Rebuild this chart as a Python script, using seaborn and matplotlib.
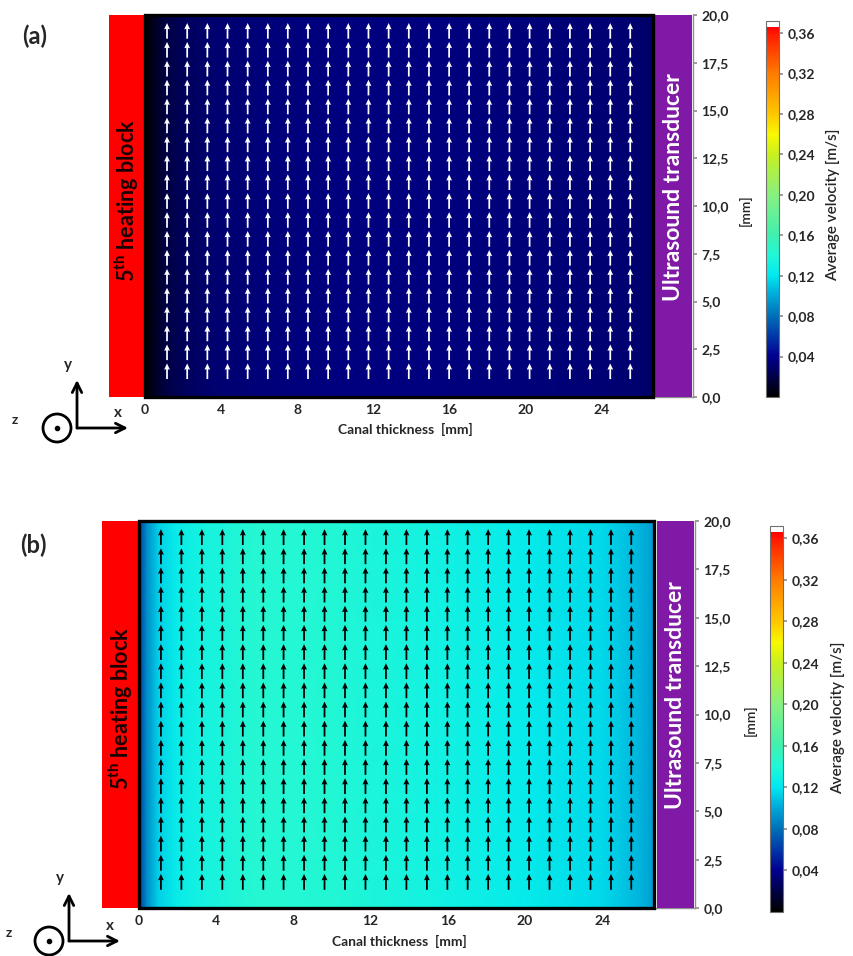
import numpy as np
import matplotlib
matplotlib.use('Agg')
import matplotlib.pyplot as plt
import matplotlib.patches as mpatches
from matplotlib.colors import LinearSegmentedColormap
import seaborn as sns

sns.set_theme(style='white')
plt.rcParams['font.family'] = ['Lato', 'DejaVu Sans']
plt.rcParams['mathtext.fontset'] = 'custom'
plt.rcParams['mathtext.rm'] = 'Lato:bold'
plt.rcParams['mathtext.default'] = 'rm'

# Dados: perfis de velocidade media (m/s) ao longo da espessura do canal
x_perfil = [0.0, 0.4, 1.0, 2.0, 3.5, 6.0, 10.0, 15.0, 20.0, 24.0, 26.0, 26.7]
y_perfil = [0.0, 20.0]
vel_a = [0.0, 0.008, 0.018, 0.026, 0.031, 0.034, 0.035, 0.035, 0.034, 0.033, 0.031, 0.028]
vel_b = [0.060, 0.090, 0.112, 0.125, 0.135, 0.143, 0.142, 0.133, 0.124, 0.116, 0.104, 0.095]

# Grade dos vetores (mm)
x_vet = [1.15, 2.21, 3.27, 4.33, 5.39, 6.45, 7.5, 8.56, 9.62, 10.68, 11.74, 12.8,
         13.86, 14.92, 15.98, 17.03, 18.09, 19.15, 20.21, 21.27, 22.33, 23.39, 24.45, 25.5]
y_vet = [1.35, 2.34, 3.33, 4.32, 5.31, 6.3, 7.29, 8.28, 9.27, 10.26, 11.25, 12.24,
         13.23, 14.22, 15.21, 16.2, 17.19, 18.18, 19.17]

x_ticks = [0, 4, 8, 12, 16, 20, 24]
y_ticks = [0, 2.5, 5, 7.5, 10, 12.5, 15, 17.5, 20]
cb_ticks = [0.04, 0.08, 0.12, 0.16, 0.20, 0.24, 0.28, 0.32, 0.36]

vmax = 0.372
stops = [(0.0, '#000000'), (0.02, '#00004a'), (0.04, '#000090'), (0.06, '#0038a8'),
         (0.08, '#0070b8'), (0.10, '#00a8d8'), (0.12, '#00e8f0'), (0.14, '#20f8d8'),
         (0.16, '#40f0b0'), (0.20, '#88f080'), (0.24, '#c8f020'), (0.26, '#f8f800'),
         (0.28, '#ffc800'), (0.32, '#ff7c00'), (0.36, '#ff1a00'), (0.3665, '#ff0000'),
         (0.3675, '#ffffff'), (0.372, '#ffffff')]
cmap = LinearSegmentedColormap.from_list('vel', [(v / vmax, c) for v, c in stops])

W, H = 854, 956
fig = plt.figure(figsize=(W / 100, H / 100), dpi=100)

FS = 10


def fx(px):
    return px / W


def fy(py):
    return 1 - py / H


def virgula(v, casas):
    return f'{v:.{casas}f}'.replace('.', ',')


# camada de desenho em pixels
ov = fig.add_axes([0, 0, 1, 1])
ov.set_xlim(0, W)
ov.set_ylim(H, 0)
ov.axis('off')


def painel(rect, cbrect, vel, cor_vet, letra, letra_pos, dx, dy, label_pos, mm_pos, cb_label_pos, z_pos):
    ax = fig.add_axes(rect)
    X, Y = np.meshgrid(x_perfil, y_perfil)
    Z = np.tile(vel, (len(y_perfil), 1))
    m = ax.pcolormesh(X, Y, Z, shading='gouraud', cmap=cmap, vmin=0, vmax=vmax)
    XV, YV = np.meshgrid(x_vet, y_vet)
    ax.quiver(XV, YV, np.zeros_like(XV), np.ones_like(YV), color=cor_vet, pivot='middle',
              angles='xy', scale_units='xy', scale=1 / 0.82, width=0.003,
              headwidth=3.3, headlength=3.6, headaxislength=3.3)
    ax.add_patch(mpatches.Rectangle((0, 0), 26.7, 20, fill=False, ec='black', lw=2.4,
                                    clip_on=False, zorder=5))
    ax.add_patch(mpatches.Rectangle((-1.9, 0), 1.9, 20, fc='#ff0000', ec='none',
                                    clip_on=False, zorder=4))
    ax.add_patch(mpatches.Rectangle((26.82, 0), 1.93, 20, fc='#8019a6', ec='none',
                                    clip_on=False, zorder=4))
    ax.text(-0.95, 10.3, r'5$^{\mathrm{th}}$ heating block', rotation=90, ha='center',
            va='center', fontsize=15.5, fontweight='bold', color='#1a0000', zorder=6)
    ax.text(27.8, 11.0, 'Ultrasound transducer', rotation=90, ha='center', va='center',
            fontsize=16.5, fontweight='bold', color='white', zorder=6)
    ax.set_xlim(-1.9, 28.8)
    ax.set_ylim(0, 20)
    ax.set_facecolor('none')
    for s in ['top', 'left']:
        ax.spines[s].set_visible(False)
    for s in ['right', 'bottom']:
        ax.spines[s].set_color('#909090')
        ax.spines[s].set_linewidth(1.0)
    ax.spines['bottom'].set_bounds(0, 28.8)
    ax.yaxis.tick_right()
    ax.set_xticks(x_ticks)
    ax.set_xticklabels([str(t) for t in x_ticks])
    ax.set_yticks(y_ticks)
    ax.set_yticklabels([virgula(t, 1) for t in y_ticks])
    ax.tick_params(axis='x', direction='in', length=2, color='#909090', pad=5,
                   labelsize=FS, bottom=True)
    ax.tick_params(axis='y', direction='out', length=3, color='#909090', pad=3,
                   labelsize=FS, right=True, left=False)
    for lb in ax.get_xticklabels() + ax.get_yticklabels():
        lb.set_fontweight('bold')

    cax = fig.add_axes(cbrect)
    cb = fig.colorbar(m, cax=cax)
    cb.set_ticks(cb_ticks)
    cb.set_ticklabels([virgula(t, 2) for t in cb_ticks])
    cb.outline.set_edgecolor('#707070')
    cb.outline.set_linewidth(0.8)
    cax.tick_params(length=3, color='#909090', labelsize=FS, pad=3)
    for lb in cax.get_yticklabels():
        lb.set_fontweight('bold')

    ov.text(*label_pos, 'Canal thickness  [mm]', ha='center', va='center',
            fontsize=FS, fontweight='bold')
    ov.text(*mm_pos, '[mm]', ha='center', va='center', rotation=90, fontsize=FS,
            fontweight='semibold')
    ov.text(*cb_label_pos, 'Average velocity [m/s]', ha='center', va='center',
            rotation=90, fontsize=11, fontweight='semibold')
    ov.text(*letra_pos, letra, ha='center', va='center', fontsize=17, fontweight='bold')

    # sistema de coordenadas
    o = (77 + dx, 428 + dy)
    ov.annotate('', xy=(o[0], o[1] - 48), xytext=o,
                arrowprops=dict(arrowstyle='->', lw=2, color='black', mutation_scale=17,
                                shrinkA=0, shrinkB=0))
    ov.annotate('', xy=(o[0] + 51, o[1]), xytext=o,
                arrowprops=dict(arrowstyle='->', lw=2, color='black', mutation_scale=17,
                                shrinkA=0, shrinkB=0))
    ov.add_patch(mpatches.Circle((o[0] - 20, o[1]), 14, fill=False, ec='black', lw=2))
    ov.plot(o[0] - 20, o[1], 'o', color='black', ms=3)
    ov.text(o[0] - 9, o[1] - 63, 'y', ha='center', va='center', fontsize=11, fontweight='bold')
    ov.text(o[0] + 41, o[1] - 15, 'x', ha='center', va='center', fontsize=11, fontweight='bold')
    ov.text(*z_pos, 'z', ha='center', va='center', fontsize=10, fontweight='bold')


painel([fx(109), fy(397), fx(693) - fx(109), fy(15) - fy(397)],
       [fx(766), fy(397), fx(779) - fx(766), fy(21) - fy(397)],
       vel_a, 'white', '(a)', (35, 36), 0, 0, (405, 429), (745, 210), (833, 205), (15, 420))
painel([fx(102), fy(908), fx(695) - fx(102), fy(521) - fy(908)],
       [fx(770), fy(912), fx(783) - fx(770), fy(526) - fy(912)],
       vel_b, 'black', '(b)', (33, 545), -8, 513, (399, 941), (750, 720), (838, 718), (9, 933))

fig.savefig('out.png', dpi=100)
